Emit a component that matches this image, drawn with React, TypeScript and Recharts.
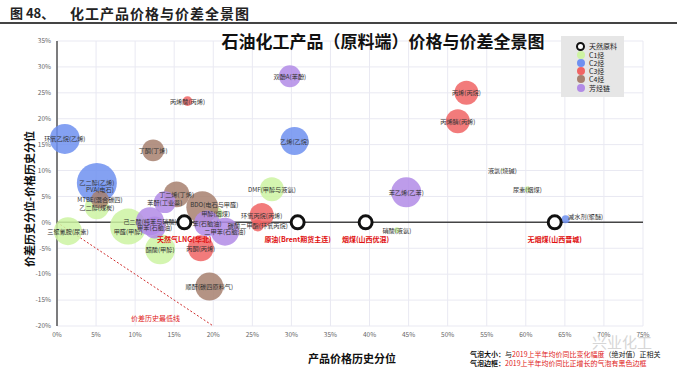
import { CartesianGrid, ReferenceDot, ReferenceLine, Scatter, ScatterChart, XAxis, YAxis, ZAxis } from "recharts"

// axis ticks (percent)
const xTicks = [0, 5, 10, 15, 20, 25, 30, 35, 40, 45, 50, 55, 60, 65, 70, 75]
const yTicks = [-20, -15, -10, -5, 0, 5, 10, 15, 20, 25, 30, 35]

// x = 产品价格历史分位, y = 价差分位-价格分位, z = 同比变化幅度(气泡大小)
const rawMaterials = [
  { name: "天然气LNG(华北)", x: 16.3, y: 0 },
  { name: "原油(Brent期货主连)", x: 30.8, y: 0 },
  { name: "烟煤(山西优混)", x: 39.5, y: 0 },
  { name: "无烟煤(山西晋城)", x: 63.7, y: 0 },
]

const c1Points = [
  { name: "乙二醇(煤炭)", x: 5.1, y: 2.9, z: 36 },
  { name: "三聚氰胺(尿素)", x: 1.4, y: -1.7, z: 49 },
  { name: "甲醛(甲醇)", x: 9.1, y: -0.8, z: 81 },
  { name: "醋酸(甲醇)", x: 13.2, y: -5.2, z: 56 },
  { name: "甲醇(烟煤)", x: 20.3, y: 1.7, z: 12 },
  { name: "DMF(甲醇与液氨)", x: 27.5, y: 6.4, z: 36 },
  { name: "硝酸(液氨)", x: 43.5, y: -1.5, z: 2 },
  { name: "液氯(烧碱)", x: 57.0, y: 10.1, z: 0.5 },
  { name: "尿素(烟煤)", x: 60.2, y: 6.4, z: 2 },
]

const c2Points = [
  { name: "环氧乙烷(乙烯)", x: 1.0, y: 16.1, z: 56 },
  { name: "乙二醇(乙烯)", x: 5.1, y: 7.6, z: 100 },
  { name: "PVA(电石)", x: 5.5, y: 6.4, z: 9 },
  { name: "乙烯(乙烷)", x: 30.4, y: 15.7, z: 49 },
  { name: "减水剂(聚醚)", x: 65.1, y: 0.6, z: 4 },
]

const c3Points = [
  { name: "丙烯酸(丙烯)", x: 16.7, y: 23.4, z: 6 },
  { name: "丙烯(丙烷)", x: 52.4, y: 25.0, z: 36 },
  { name: "丙烯腈(丙烯)", x: 51.3, y: 19.5, z: 36 },
  { name: "环氧丙烷(丙烯)", x: 26.2, y: 1.4, z: 36 },
  { name: "碳酸二甲酯(环氧丙烷)", x: 25.7, y: -0.6, z: 9 },
  { name: "丙酮(丙烯)", x: 18.4, y: -5.0, z: 42 },
]

const c4Points = [
  { name: "丁酮(丁烯)", x: 12.3, y: 13.9, z: 30 },
  { name: "MTBE(混合碳四)", x: 5.5, y: 4.4, z: 20 },
  { name: "丁二烯(丁烯)", x: 15.3, y: 5.4, z: 42 },
  { name: "BDO(电石与甲醛)", x: 18.6, y: 2.9, z: 64 },
  { name: "顺酐(碳四原料气)", x: 19.5, y: -12.4, z: 49 },
]

const aromaticPoints = [
  { name: "双酚A(苯酚)", x: 29.8, y: 28.2, z: 30 },
  { name: "己二酸(纯苯与硝酸)", x: 11.9, y: 0.2, z: 49 },
  { name: "甲苯(石脑油)", x: 12.5, y: -1.0, z: 30 },
  { name: "苯酐(工业萘)", x: 13.8, y: 3.9, z: 30 },
  { name: "苯(石脑油)", x: 19.2, y: -0.2, z: 42 },
  { name: "二甲苯(石脑油)", x: 21.5, y: -1.8, z: 49 },
  { name: "苯乙烯(乙苯)", x: 44.7, y: 5.8, z: 56 },
]

const groups = [
  { key: "C1烃", color: "#cdf3a2", data: c1Points },
  { key: "C2烃", color: "#6f90f0", data: c2Points },
  { key: "C3烃", color: "#f06464", data: c3Points },
  { key: "C4烃", color: "#a7806f", data: c4Points },
  { key: "芳烃链", color: "#b28be6", data: aromaticPoints },
]

const allPoints = groups.flatMap((g) => g.data)

// small nudges for labels that sit beside their bubble
const labelNudge: Record<string, [number, number]> = {
  "减水剂(聚醚)": [20, -3],
  "BDO(电石与甲醛)": [12, -3],
  "甲醛(甲醇)": [0, 5],
}

const font = "'Noto Sans CJK SC', 'Noto Sans', sans-serif"

const PointLabel = (props: any) => {
  const { cx, cy, payload } = props
  const [dx, dy] = labelNudge[payload.name] ?? [0, 0]
  return (
    <text x={cx + dx} y={cy + dy} textAnchor="middle" dominantBaseline="central" fontSize={6.2} fill="#333" fontFamily={font}>
      {payload.name}
    </text>
  )
}

const RingShape = (props: any) => (
  <g>
    <circle cx={props.cx} cy={props.cy} r={6.5} fill="#fff" stroke="#111" strokeWidth={3} />
    <text x={props.cx} y={props.cy + 17} textAnchor="middle" dominantBaseline="central" fontSize={7} fontWeight={700} fill="#e01010" fontFamily={font}>
      {props.payload.name}
    </text>
  </g>
)

export default function App() {
  return (
    <div style={{ position: "absolute", left: 0, top: 0, width: 677, height: 375, background: "#fff", fontFamily: font, overflow: "hidden" }}>
      {/* header */}
      <div style={{ position: "absolute", left: 10, top: 3, fontSize: 13, fontWeight: 700, color: "#222" }}>图 48、</div>
      <div style={{ position: "absolute", left: 70, top: 3, fontSize: 14, fontWeight: 700, color: "#222", letterSpacing: 1 }}>化工产品价格与价差全景图</div>
      <div style={{ position: "absolute", left: 0, top: 22, width: 677, height: 2, background: "#444" }} />

      <ScatterChart width={677} height={375} margin={{ top: 41, right: 34, bottom: 29, left: 17 }}>
        <CartesianGrid stroke="#e9e9f2" />
        <XAxis
          type="number"
          dataKey="x"
          domain={[0, 75]}
          ticks={xTicks}
          tickFormatter={(v) => `${v}%`}
          axisLine={false}
          tickLine={false}
          tickSize={4}
          height={20}
          tick={{ fontSize: 6.5, fill: "#666" }}
        />
        <YAxis
          type="number"
          dataKey="y"
          domain={[-20, 35]}
          ticks={yTicks}
          tickFormatter={(v) => `${v}%`}
          axisLine={{ stroke: "#555", strokeWidth: 1.5 }}
          tickLine={false}
          tickSize={4}
          width={40}
          tick={{ fontSize: 6.5, fill: "#666" }}
        />
        <ZAxis type="number" dataKey="z" domain={[0, 100]} range={[0, Math.PI * 400]} />
        <ReferenceLine y={0} stroke="#444" strokeWidth={1.5} />
        <ReferenceLine segment={[{ x: 0, y: 0 }, { x: 20, y: -20 }]} stroke="#d03030" strokeDasharray="2 2" />
        <ReferenceDot
          x={12.6}
          y={-18.6}
          r={0}
          stroke="none"
          label={{ value: "价差历史最低线", fill: "#e02020", fontSize: 7, position: "center" }}
        />
        {groups.map((g) => (
          <Scatter key={g.key} name={g.key} data={g.data} fill={g.color} fillOpacity={0.85} isAnimationActive={false} />
        ))}
        <Scatter name="labels" data={allPoints} shape={PointLabel} isAnimationActive={false} />
        <Scatter name="天然原料" data={rawMaterials} shape={RingShape} isAnimationActive={false} />
      </ScatterChart>

      {/* titles drawn as svg text for exact placement */}
      <svg width={677} height={375} style={{ position: "absolute", left: 0, top: 0, pointerEvents: "none" }}>
        <text x={383} y={40} textAnchor="middle" dominantBaseline="central" fontSize={17} fontWeight={700} fill="#111" fontFamily={font}>
          石油化工产品（原料端）价格与价差全景图
        </text>
        <text transform="translate(29,199) rotate(-90)" textAnchor="middle" dominantBaseline="central" fontSize={11} fontWeight={700} fill="#111" fontFamily={font}>
          价差历史分位-价格历史分位
        </text>
        <text x={352} y={358} textAnchor="middle" dominantBaseline="central" fontSize={11} fontWeight={700} fill="#111" fontFamily={font}>
          产品价格历史分位
        </text>
        <text x={592} y={348} fontSize={15} fill="#d6d6d6" fontFamily={font}>
          兴业化工
        </text>
      </svg>

      {/* legend */}
      <div style={{ position: "absolute", left: 561, top: 36, width: 63, height: 61, background: "#e6e6e6" }}>
        <div style={{ position: "absolute", left: 15, top: 6, display: "flex", alignItems: "center", height: 8 }}>
          <span style={{ width: 5, height: 5, borderRadius: "50%", border: "2px solid #111", background: "#fff" }} />
          <span style={{ fontSize: 7, marginLeft: 4, color: "#222" }}>天然原料</span>
        </div>
        {groups.map((g, i) => (
          <div key={g.key} style={{ position: "absolute", left: 15, top: 14.5 + i * 8.3, display: "flex", alignItems: "center", height: 8 }}>
            <span style={{ width: 8, height: 8, borderRadius: "50%", background: g.color, marginLeft: 0.5 }} />
            <span style={{ fontSize: 7, marginLeft: 4.5, color: "#222" }}>{g.key}</span>
          </div>
        ))}
      </div>

      {/* notes */}
      <div style={{ position: "absolute", left: 470, top: 350, fontSize: 7, lineHeight: "9px", whiteSpace: "nowrap", color: "#e02020" }}>
        <div>
          <b style={{ color: "#111" }}>气泡大小：</b>
          <span style={{ color: "#111" }}>与</span>2019上半年均价同比变化幅度<span style={{ color: "#111" }}>（绝对值）正相关</span>
        </div>
        <div>
          <b style={{ color: "#111" }}>气泡边框：</b>2019上半年均价同比正增长的气泡有黑色边框
        </div>
      </div>
    </div>
  )
}
